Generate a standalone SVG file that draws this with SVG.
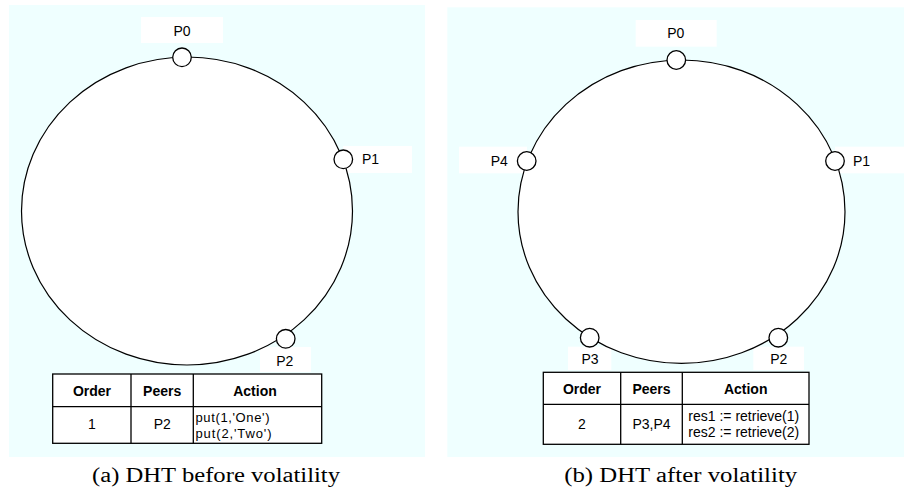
<svg xmlns="http://www.w3.org/2000/svg" width="904" height="492" viewBox="0 0 904 492">
  <style>
    .panel { fill: #efffff; }
    .tag { fill: #ffffff; }
    .ring { fill: #ffffff; stroke: #000000; stroke-width: 1.2; }
    .peer { fill: #ffffff; stroke: #000000; stroke-width: 1.3; }
    .label { font-family: "Liberation Sans", Arial, Helvetica, sans-serif; font-size: 14px; fill: #000000; }
    .small { font-size: 13px; }
    .mid { text-anchor: middle; }
    .head { font-weight: bold; }
    .cell { fill: #ffffff; stroke: #000000; stroke-width: 1.3; }
    .grid { stroke: #000000; stroke-width: 1.3; fill: none; }
    .caption { font-family: "Liberation Serif", "Times New Roman", serif; font-size: 20px; fill: #000000; }
  </style>

  <!-- (a) before volatility -->
  <rect class="panel" x="9" y="5" width="416" height="452"/>
  <rect class="tag" x="141" y="17" width="82" height="26"/>
  <rect class="tag" x="343" y="146" width="69" height="27"/>
  <rect class="tag" x="260" y="347" width="51" height="25"/>

  <g id="ring-a">
    <ellipse class="ring" cx="187" cy="211" rx="165.5" ry="154"/>
  </g>

  <g id="a-P0">
    <circle class="peer" cx="182" cy="57.3" r="9.3"/>
    <text class="label mid" x="182" y="36">P0</text>
  </g>
  <g id="a-P1">
    <circle class="peer" cx="343.3" cy="159.3" r="9.3"/>
    <text class="label mid" x="370.5" y="164.3">P1</text>
  </g>
  <g id="a-P2">
    <circle class="peer" cx="285.7" cy="338.8" r="9.3"/>
    <text class="label mid" x="284.7" y="366">P2</text>
  </g>

  <g id="table-a">
    <rect class="cell" x="52.7" y="374" width="269" height="69.3"/>
    <path class="grid" d="M52.7 406.7H321.7M131 374V443.3M193.3 374V443.3"/>
    <text class="label mid head" x="92" y="395.5">Order</text>
    <text class="label mid head" x="162.2" y="395.5">Peers</text>
    <text class="label mid head" x="255" y="395.5">Action</text>
    <text class="label mid" x="92" y="428.5">1</text>
    <text class="label mid" x="162.2" y="428.5">P2</text>
    <text class="label small" x="195.5" y="422" textLength="74">put(1,'One')</text>
    <text class="label small" x="195.5" y="437.5" textLength="76">put(2,'Two')</text>
  </g>

  <text class="caption mid" x="216" y="482" textLength="248" lengthAdjust="spacingAndGlyphs">(a) DHT before volatility</text>

  <!-- (b) after volatility -->
  <rect class="panel" x="447.3" y="7.3" width="456.7" height="449.7"/>
  <rect class="tag" x="635.7" y="20" width="81" height="26.7"/>
  <rect class="tag" x="459" y="146.7" width="68" height="26.6"/>
  <rect class="tag" x="835" y="146.7" width="69" height="26.6"/>
  <rect class="tag" x="568" y="346.7" width="43.3" height="23.3"/>
  <rect class="tag" x="753.3" y="346.7" width="50.7" height="23.3"/>

  <g id="ring-b">
    <ellipse class="ring" cx="681.5" cy="211.7" rx="163.5" ry="151.7"/>
  </g>

  <g id="b-P0">
    <circle class="peer" cx="676.3" cy="60" r="9.3"/>
    <text class="label mid" x="675.7" y="37.7">P0</text>
  </g>
  <g id="b-P1">
    <circle class="peer" cx="835" cy="161" r="9.3"/>
    <text class="label mid" x="861.5" y="165.7">P1</text>
  </g>
  <g id="b-P2">
    <circle class="peer" cx="778.3" cy="337.7" r="9.3"/>
    <text class="label mid" x="778.7" y="364.3">P2</text>
  </g>
  <g id="b-P3">
    <circle class="peer" cx="589.7" cy="337.7" r="9.3"/>
    <text class="label mid" x="590" y="364.3">P3</text>
  </g>
  <g id="b-P4">
    <circle class="peer" cx="526.7" cy="161" r="9.3"/>
    <text class="label mid" x="499.3" y="165.7">P4</text>
  </g>

  <g id="table-b">
    <rect class="cell" x="543.3" y="372.3" width="265.7" height="72"/>
    <path class="grid" d="M543.3 404.3H809M620.7 372.3V444.3M682.3 372.3V444.3"/>
    <text class="label mid head" x="582" y="394">Order</text>
    <text class="label mid head" x="651.5" y="394">Peers</text>
    <text class="label mid head" x="745.7" y="394">Action</text>
    <text class="label mid" x="582" y="429.3">2</text>
    <text class="label mid" x="651.5" y="429.3">P3,P4</text>
    <text class="label" x="688.3" y="420.5">res1 := retrieve(1)</text>
    <text class="label" x="688.3" y="436.5">res2 := retrieve(2)</text>
  </g>

  <text class="caption mid" x="680.7" y="482" textLength="233" lengthAdjust="spacingAndGlyphs">(b) DHT after volatility</text>
</svg>
